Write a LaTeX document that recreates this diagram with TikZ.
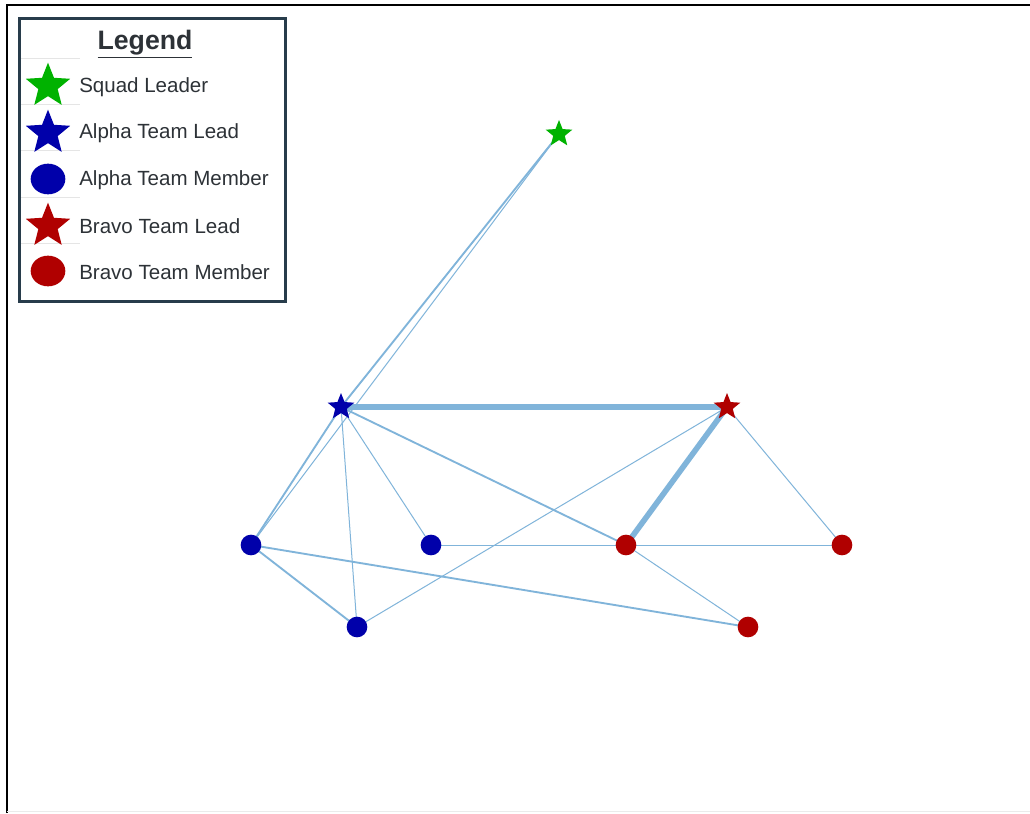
\documentclass[tikz,border=0pt]{standalone}
\usepackage{fontspec}
\setmainfont{Liberation Sans}
\usetikzlibrary{shapes.geometric}
\definecolor{sqgreen}{RGB}{0,178,0}
\definecolor{alblue}{RGB}{0,0,170}
\definecolor{brred}{RGB}{176,0,0}
\definecolor{edgeblue}{RGB}{128,180,218}
\definecolor{legborder}{RGB}{40,60,75}
\definecolor{legtext}{RGB}{45,50,55}
\begin{document}
\begin{tikzpicture}[x=0.75pt,y=-0.75pt,
  starnode/.style={star,star points=5,star point ratio=2.3,inner sep=0pt,minimum size=21pt,draw=none},
  dotnode/.style={circle,inner sep=0pt,minimum size=15.5pt,draw=none},
  legstar/.style={star,star points=5,star point ratio=2.3,inner sep=0pt,minimum size=35pt,draw=none},
  legdot/.style={ellipse,inner sep=0pt,minimum width=26pt,minimum height=23pt,draw=none},
  legtxt/.style={anchor=west,inner sep=0pt,font=\fontsize{15.4pt}{17pt}\selectfont,text=legtext},
  ethin/.style={draw=edgeblue,line width=0.75pt},
  emid/.style={draw=edgeblue,line width=1.4pt},
  ethick/.style={draw=edgeblue,line width=4.2pt}]
\useasboundingbox (0,0) rectangle (1030,813);
\fill[white] (0,0) rectangle (1030,813);
% frame
\draw[black,line width=1.7pt] (7,813) -- (7,5) -- (1030,5);
\draw[black!8,line width=1pt] (7,811.5) -- (1030,811.5);
% node coordinates
\coordinate (pSL) at (559,134);
\coordinate (pAL) at (341,407);
\coordinate (pBL) at (727,407);
\coordinate (pA1) at (251,545);
\coordinate (pA2) at (431,545);
\coordinate (pA3) at (357,627);
\coordinate (pB1) at (626,545);
\coordinate (pB2) at (842,545);
\coordinate (pB3) at (748,627);
% edges
\path[ethick] (pAL) -- (pBL);
\path[ethick] (pBL) -- (pB1);
\path[emid] (pAL) -- (pSL);
\path[ethin] (pA1) -- (pSL);
\path[emid] (pA1) -- (pAL);
\path[emid] (pAL) -- (pB1);
\path[ethin] (pAL) -- (pA2);
\path[ethin] (pAL) -- (pA3);
\path[emid] (pA1) -- (pA3);
\path[emid] (pA1) -- (pB3);
\path[ethin] (pA2) -- (pB1);
\path[ethin] (pB1) -- (pB2);
\path[ethin] (pA3) -- (pBL);
\path[ethin] (pBL) -- (pB2);
\path[ethin] (pB1) -- (pB3);
% nodes
\node[starnode,fill=sqgreen] (SL) at (pSL) {};
\node[starnode,fill=alblue] (AL) at (pAL) {};
\node[starnode,fill=brred] (BL) at (pBL) {};
\node[dotnode,fill=alblue] (A1) at (pA1) {};
\node[dotnode,fill=alblue] (A2) at (pA2) {};
\node[dotnode,fill=alblue] (A3) at (pA3) {};
\node[dotnode,fill=brred] (B1) at (pB1) {};
\node[dotnode,fill=brred] (B2) at (pB2) {};
\node[dotnode,fill=brred] (B3) at (pB3) {};
% legend
\draw[legborder,line width=1.6pt,fill=white] (19.5,18.5) rectangle (285.5,301.5);
\node[inner sep=0pt,font=\bfseries\fontsize{20pt}{22pt}\selectfont,text=legtext] (LT) at (145,44) {\underline{Legend}};
\foreach \yy in {58,104,150,197,243}{
  \draw[black!10,line width=0.5pt] (21,\yy) -- (80,\yy);
}
\node[legstar,fill=sqgreen] (L1) at (48,86) {};
\node[legstar,fill=alblue] (L2) at (48,133) {};
\node[legdot,fill=alblue] (L3) at (48,179) {};
\node[legstar,fill=brred] (L4) at (48,226) {};
\node[legdot,fill=brred] (L5) at (48,271) {};
\node[legtxt] (T1) at (79,87) {Squad Leader};
\node[legtxt] (T2) at (79,133) {Alpha Team Lead};
\node[legtxt] (T3) at (79,180) {Alpha Team Member};
\node[legtxt] (T4) at (79,226) {Bravo Team Lead};
\node[legtxt] (T5) at (79,272) {Bravo Team Member};
\end{tikzpicture}
\end{document}
